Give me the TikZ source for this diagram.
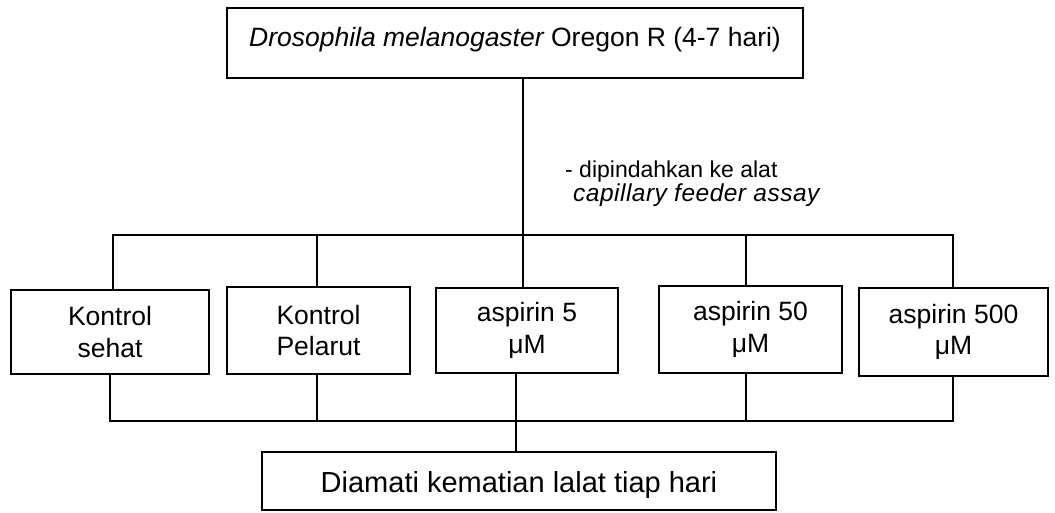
\documentclass[tikz,border=0pt]{standalone}
\usepackage{fontspec}
\setmainfont{Liberation Sans}
\begin{document}
\begin{tikzpicture}[x=1pt,y=-1pt,
  boxline/.style={draw=black,line width=1.8pt},
  conn/.style={draw=black,line width=1.8pt},
  grp/.style={boxline,inner sep=0pt,align=center,font=\fontsize{26.5}{31.7}\selectfont},
]
\useasboundingbox[fill=white] (0,0) rectangle (1055,512);
% top box
\node[boxline,inner sep=0pt,minimum width=576pt,minimum height=70pt,text height=20pt,text depth=14pt,
  font=\fontsize{26.5}{31.7}\selectfont] (top) at (515,43) {\itshape Drosophila melanogaster\upshape{} Oregon R (4-7 hari)};
% label
\node[anchor=base west,align=left,inner sep=0pt,font=\fontsize{23}{24}\selectfont] (lbl) at (565,201)
  {- dipindahkan ke alat\\\hspace*{8pt}{\fontsize{24.5}{24}\selectfont\itshape\addfontfeatures{LetterSpace=2}capillary feeder assay}};
% group boxes
\node[grp,minimum width=198pt,minimum height=84pt] (b1) at (110,332) {Kontrol\\sehat};
\node[grp,minimum width=183pt,minimum height=87pt] (b2) at (318.5,330.5) {Kontrol\\Pelarut};
\node[grp,minimum width=182pt,minimum height=85pt] (b3) at (527,330.5) {aspirin 5\\μM};
\node[grp,minimum width=183pt,minimum height=87pt] (b4) at (750.5,329.5) {aspirin 50\\μM};
\node[grp,minimum width=189pt,minimum height=88pt] (b5) at (953.5,332) {aspirin 500\\μM};
% bottom box
\node[boxline,inner sep=0pt,minimum width=514pt,minimum height=58pt,text height=22pt,text depth=0pt,
  font=\fontsize{29}{34}\selectfont] (bot) at (519,481) {Diamati kematian lalat tiap hari};
% junctions
\coordinate (ju) at (523,235);
\coordinate (ul) at (113,235);
\coordinate (ur) at (953,235);
\coordinate (u2) at (317,235);
\coordinate (u4) at (746,235);
\coordinate (jl) at (516,421);
\coordinate (ll) at (110,421);
\coordinate (lr) at (953,421);
\coordinate (l2) at (317,421);
\coordinate (l4) at (746,421);
% upper connectors
\draw[conn] (top.south -| ju) -- (ju);
\draw[conn,line cap=rect] (ul) -- (ur);
\draw[conn] (ul) -- (b1.north -| ul);
\draw[conn] (u2) -- (b2.north -| u2);
\draw[conn] (ju) -- (b3.north -| ju);
\draw[conn] (u4) -- (b4.north -| u4);
\draw[conn] (ur) -- (b5.north -| ur);
% lower connectors
\draw[conn] (b1.south -| ll) -- (ll);
\draw[conn] (b2.south -| l2) -- (l2);
\draw[conn] (b3.south -| jl) -- (jl);
\draw[conn] (b4.south -| l4) -- (l4);
\draw[conn] (b5.south -| lr) -- (lr);
\draw[conn,line cap=rect] (ll) -- (lr);
\draw[conn] (jl) -- (bot.north -| jl);
\end{tikzpicture}
\end{document}
